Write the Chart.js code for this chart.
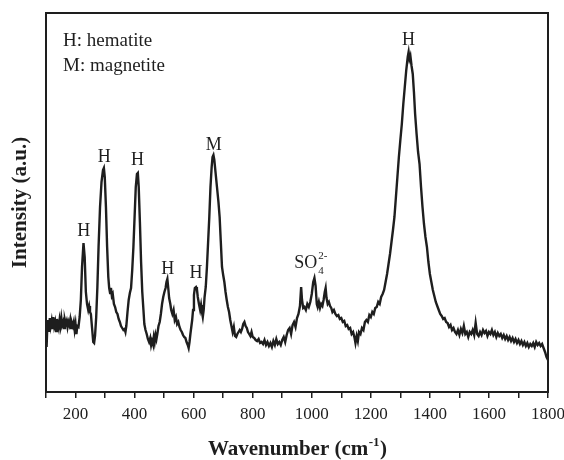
<!DOCTYPE html>
<html>
<head>
<meta charset="utf-8">
<script src="https://cdn.jsdelivr.net/npm/chart.js@4.4.1/dist/chart.umd.min.js"></script>
<style>
html,body{margin:0;padding:0;background:#fff;}
#wrap{width:564px;height:460px;}
</style>
</head>
<body>
<div id="wrap"><canvas id="c" width="564" height="460"></canvas></div>
<script>
// Raman spectrum: wavenumber (cm-1) and intensity (a.u.)
const wavenumber = [100,102,104,107,110,113,116,119,122,125,128,131,134,137,140,143,146,149,152,155,158,161,164,167,170,173,176,179,182,185,188,191,194,197,200,203,206,210,214,218,222,227,231,235,239,243,246,249,252,256,260,263,266,270,274,278,283,288,293,296,299,303,307,311,314,317,320,323,326,330,334,338,342,346,350,354,358,362,366,369,372,376,380,384,388,392,396,400,404,408,411,414,418,422,426,430,433,437,441,445,449,453,456,459,462,465,468,471,474,477,481,485,489,493,497,501,505,508,511,514,517,521,524,528,532,536,540,544,548,552,556,560,564,568,572,576,580,583,586,589,592,595,598,601,604,608,611,614,618,622,625,628,631,634,637,641,645,649,653,657,661,664,667,670,674,679,684,688,692,696,700,704,708,712,716,720,724,728,732,736,740,744,748,752,756,760,764,768,772,776,780,784,788,792,796,800,805,810,815,820,825,830,835,840,845,850,855,860,865,870,875,880,885,890,895,900,905,910,915,920,925,930,935,940,945,950,955,960,964,967,971,975,980,985,990,995,1000,1005,1009,1013,1017,1020,1024,1028,1032,1036,1040,1044,1047,1050,1054,1058,1062,1066,1070,1075,1080,1085,1090,1095,1100,1105,1110,1115,1120,1125,1130,1135,1140,1145,1148,1152,1156,1160,1165,1170,1175,1180,1185,1190,1195,1200,1205,1210,1215,1220,1225,1230,1235,1240,1245,1250,1255,1260,1265,1270,1275,1280,1285,1290,1295,1300,1305,1310,1315,1320,1325,1328,1331,1334,1338,1342,1346,1350,1355,1360,1365,1370,1375,1380,1385,1390,1395,1400,1405,1410,1415,1420,1425,1430,1435,1440,1445,1450,1455,1460,1465,1470,1475,1480,1485,1490,1495,1500,1505,1510,1515,1520,1525,1530,1535,1540,1545,1550,1555,1560,1565,1570,1575,1580,1585,1590,1595,1600,1605,1610,1615,1620,1625,1630,1635,1640,1645,1650,1655,1660,1665,1670,1675,1680,1685,1690,1695,1700,1705,1710,1715,1720,1725,1730,1735,1740,1745,1750,1755,1760,1765,1770,1775,1780,1785,1790,1795,1800];
const intensity = [50,45,62,72,60,74,66,71,63,75,66,70,61,73,68,64,72,66,74,67,70,64,72,68,71,65,70,67,72,64,69,66,70,62,68,58,66,65,75,92,125,149,135,100,88,82,86,80,78,64,50,49,56,75,105,145,185,210,222,224,215,185,145,115,104,99,104,96,98,88,85,80,78,73,70,66,64,62,63,60,66,80,92,99,104,122,145,175,205,218,219,205,170,130,100,82,68,62,58,53,50,54,47,51,48,55,50,57,53,58,66,70,78,88,95,100,104,110,113,104,94,88,82,78,82,72,75,68,70,65,62,60,57,55,54,50,47,44,50,58,65,72,82,97,104,105,103,95,88,82,87,80,75,82,95,105,125,150,175,205,225,235,237,232,220,205,190,175,150,125,117,110,100,92,85,80,72,66,60,65,56,55,58,60,62,60,63,68,70,66,64,60,58,56,60,55,54,52,51,53,49,50,48,52,47,50,46,49,45,51,47,53,48,50,47,52,55,50,57,62,64,58,67,70,65,74,78,86,105,92,84,85,82,88,85,90,98,110,114,106,88,85,90,84,88,86,92,100,104,94,88,90,86,84,80,82,78,76,77,73,74,70,71,66,67,63,64,58,60,54,49,56,51,60,58,64,62,70,72,70,77,75,80,78,84,85,90,88,95,98,102,110,118,128,138,150,162,175,195,215,235,252,268,288,305,322,335,340,333,336,326,318,300,278,258,240,228,205,185,168,155,145,130,118,110,102,96,90,86,82,78,76,73,74,70,69,65,67,62,64,60,58,62,57,63,59,66,58,60,55,60,58,62,57,69,58,56,60,57,62,59,61,56,60,58,62,57,60,55,59,56,58,54,57,53,56,52,55,51,54,50,53,49,52,48,51,47,50,46,49,45,48,46,49,45,50,47,49,46,48,44,40,35,32];
const xTickLabels = [200,400,600,800,1000,1200,1400,1600,1800];
const peakLabelText = ['H','H','H','H','H','M','H'];
const peakLabelWavenumber = [228,297,410,512,608,668,1328];
const peakLabelIntensity = [161,235,232,123,119,247,352];
const legendLines = ['H: hematite','M: magnetite'];

const SERIF = '"Liberation Serif", "Times New Roman", serif';
const INK = '#1e1e1e';

const points = wavenumber.map((w,i)=>({x:w,y:intensity[i]}));

const decor = {
  id:'decor',
  afterDraw(chart){
    const ctx = chart.ctx, a = chart.chartArea, xs = chart.scales.x, ys = chart.scales.y;
    ctx.save();
    // frame
    ctx.strokeStyle = INK; ctx.lineWidth = 2;
    ctx.strokeRect(a.left, a.top, a.right-a.left, a.bottom-a.top);
    ctx.fillStyle = INK;
    // peak labels
    ctx.font = '18px ' + SERIF;
    ctx.textAlign = 'center'; ctx.textBaseline = 'middle';
    peakLabelText.forEach((t,i)=>{
      ctx.fillText(t, xs.getPixelForValue(peakLabelWavenumber[i]), ys.getPixelForValue(peakLabelIntensity[i]));
    });
    // SO4 2-
    const sx = xs.getPixelForValue(1002), sy = ys.getPixelForValue(129);
    ctx.textAlign = 'right';
    ctx.fillText('SO', sx+5, sy);
    ctx.textAlign = 'left';
    ctx.font = '11px ' + SERIF;
    ctx.fillText('4', sx+6, sy+8);
    ctx.fillText('2-', sx+6, sy-7);
    // legend text
    ctx.font = '19px ' + SERIF;
    ctx.textAlign = 'left'; ctx.textBaseline = 'alphabetic';
    legendLines.forEach((t,i)=>ctx.fillText(t, a.left+17, a.top+33+i*24.7));
    // y title
    ctx.save();
    ctx.translate(21, (a.top+a.bottom)/2);
    ctx.rotate(-Math.PI/2);
    ctx.font = 'bold 21px ' + SERIF;
    ctx.textAlign = 'center'; ctx.textBaseline = 'middle';
    ctx.fillText('Intensity (a.u.)', 0, 0);
    ctx.restore();
    // x title with superscript
    const cx = (a.left+a.right)/2, base = 455;
    const big = 'bold 21px ' + SERIF, small = 'bold 13px ' + SERIF;
    ctx.font = big; const w1 = ctx.measureText('Wavenumber (cm').width; const w3 = ctx.measureText(')').width;
    ctx.font = small; const w2 = ctx.measureText('-1').width;
    let x0 = cx - (w1+w2+w3)/2;
    ctx.textAlign = 'left'; ctx.textBaseline = 'alphabetic';
    ctx.font = big; ctx.fillText('Wavenumber (cm', x0, base);
    ctx.font = small; ctx.fillText('-1', x0+w1+0.5, base-9);
    ctx.font = big; ctx.fillText(')', x0+w1+w2+1, base);
    ctx.restore();
  }
};

new Chart(document.getElementById('c'), {
  type:'line',
  data:{datasets:[{data:points, borderColor:INK, borderWidth:2.4, pointRadius:0, tension:0, fill:false}]},
  options:{
    responsive:false, animation:false, devicePixelRatio:1,
    layout:{padding:{top:13,right:16,left:0,bottom:0}},
    plugins:{legend:{display:false}, tooltip:{enabled:false}},
    scales:{
      x:{type:'linear', min:100, max:1800,
        afterFit(s){ s.height = 68; s.paddingRight = 16; s.paddingLeft = 0; },
        border:{display:false},
        grid:{display:true, drawOnChartArea:false, drawTicks:true, tickLength:6, color:INK, lineWidth:1.5},
        ticks:{stepSize:100, autoSkip:false, maxRotation:0, padding:6, color:INK,
          font:{family:SERIF, size:17},
          callback:(v)=> xTickLabels.includes(v) ? String(v) : ''}
      },
      y:{min:0, max:379,
        afterFit(s){ s.width = 46; },
        border:{display:false}, grid:{display:false}, ticks:{display:false}}
    }
  },
  plugins:[decor]
});
</script>
</body>
</html>
